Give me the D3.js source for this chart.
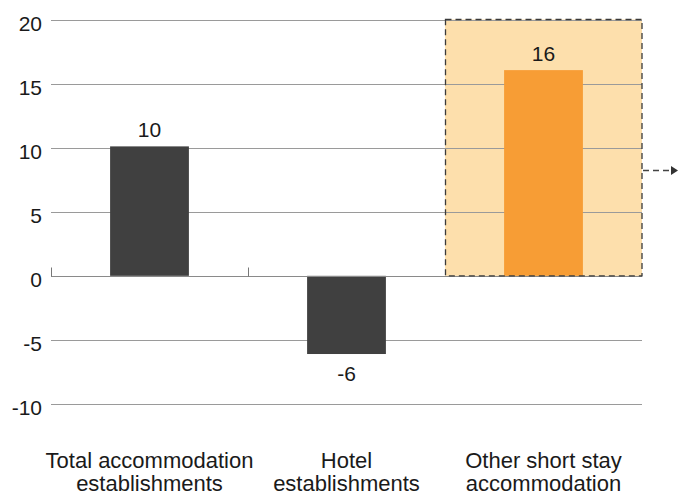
<!DOCTYPE html>
<html><head><meta charset="utf-8">
<script src="https://cdn.jsdelivr.net/npm/d3@7"></script>
<style>html,body{margin:0;padding:0;background:#fff;}svg{display:block;}text{font-family:"Liberation Sans",Arial,Helvetica,sans-serif;fill:#1a1a1a;}</style>
</head><body>
<script>
const categories = [["Total accommodation","establishments"],["Hotel","establishments"],["Other short stay","accommodation"]];
const values = [10.1, -6.1, 16.05];
const valueLabels = ["10","-6","16"];
const yTicks = [-10,-5,0,5,10,15,20];
const highlightIndex = 2;

const W = 678, H = 495;
const svg = d3.select("body").append("svg").attr("width", W).attr("height", H);
const x = d3.scaleBand().domain(d3.range(categories.length)).range([51, 642]).paddingInner(0.6).paddingOuter(0.3);
const y = d3.scaleLinear().domain([-10, 20]).range([404, 19.5]);
const step = x.step();

// highlight box
const hx0 = x(highlightIndex) - step * 0.3, hx1 = hx0 + step;
svg.append("rect").attr("x", hx0).attr("y", y(20)).attr("width", hx1 - hx0).attr("height", y(0) - y(20))
  .attr("fill", "#fddfac");

// gridlines
svg.append("g").selectAll("line").data(yTicks.filter(d => d !== 0)).join("line")
  .attr("x1", 51).attr("x2", 642).attr("y1", d => Math.round(y(d)) + 0.5).attr("y2", d => Math.round(y(d)) + 0.5)
  .attr("stroke", "#9a9a9a").attr("stroke-width", 1);

// y tick labels
svg.append("g").selectAll("text").data(yTicks).join("text")
  .attr("x", 42).attr("y", d => y(d) + 11).attr("text-anchor", "end")
  .style("font-size", "21px").text(d => d);

// bars
svg.append("g").selectAll("rect").data(values).join("rect")
  .attr("x", (d, i) => x(i)).attr("width", x.bandwidth())
  .attr("y", d => y(Math.max(0, d))).attr("height", d => Math.abs(y(d) - y(0)))
  .attr("fill", (d, i) => i === highlightIndex ? "#f79d35" : "#404040");

// zero axis
const y0 = Math.round(y(0)) + 0.5;
svg.append("line").attr("x1", 51).attr("x2", 642).attr("y1", y0).attr("y2", y0).attr("stroke", "#8a8a8a");
const bounds = d3.range(categories.length + 1).map(i => 51 + i * step);
svg.append("g").selectAll("line").data(bounds.slice(0, 2)).join("line")
  .attr("x1", d => Math.round(d) + 0.5).attr("x2", d => Math.round(d) + 0.5)
  .attr("y1", y0).attr("y2", y0 - 9).attr("stroke", "#777");

// dashed border of highlight
svg.append("rect").attr("x", hx0 + 0.5).attr("y", y(20)).attr("width", hx1 - hx0 - 0.5).attr("height", y(0) - y(20))
  .attr("fill", "none").attr("stroke", "#3a3a3a").attr("stroke-width", 1.3).attr("stroke-dasharray", "6,4");

// arrow
const ay = 170.5;
svg.append("line").attr("x1", hx1 + 1).attr("x2", 671).attr("y1", ay).attr("y2", ay)
  .attr("stroke", "#444").attr("stroke-width", 1.5).attr("stroke-dasharray", "6,4");
svg.append("path").attr("d", `M671,${ay-4.5}L678,${ay}L671,${ay+4.5}Z`).attr("fill", "#333");

// value labels
svg.append("g").selectAll("text").data(values).join("text")
  .attr("x", (d, i) => x(i) + x.bandwidth() / 2)
  .attr("y", d => d >= 0 ? y(d) - 9 : y(d) + 27)
  .attr("text-anchor", "middle").style("font-size", "21px").text((d, i) => valueLabels[i]);

// category labels
const cg = svg.append("g").selectAll("text").data(categories).join("text")
  .attr("text-anchor", "middle").style("font-size", "22px");
cg.each(function(d, i) {
  const t = d3.select(this);
  d.forEach((line, j) => t.append("tspan").attr("x", x(i) + x.bandwidth() / 2).attr("y", 468 + j * 23).text(line));
});
</script>
</body></html>
